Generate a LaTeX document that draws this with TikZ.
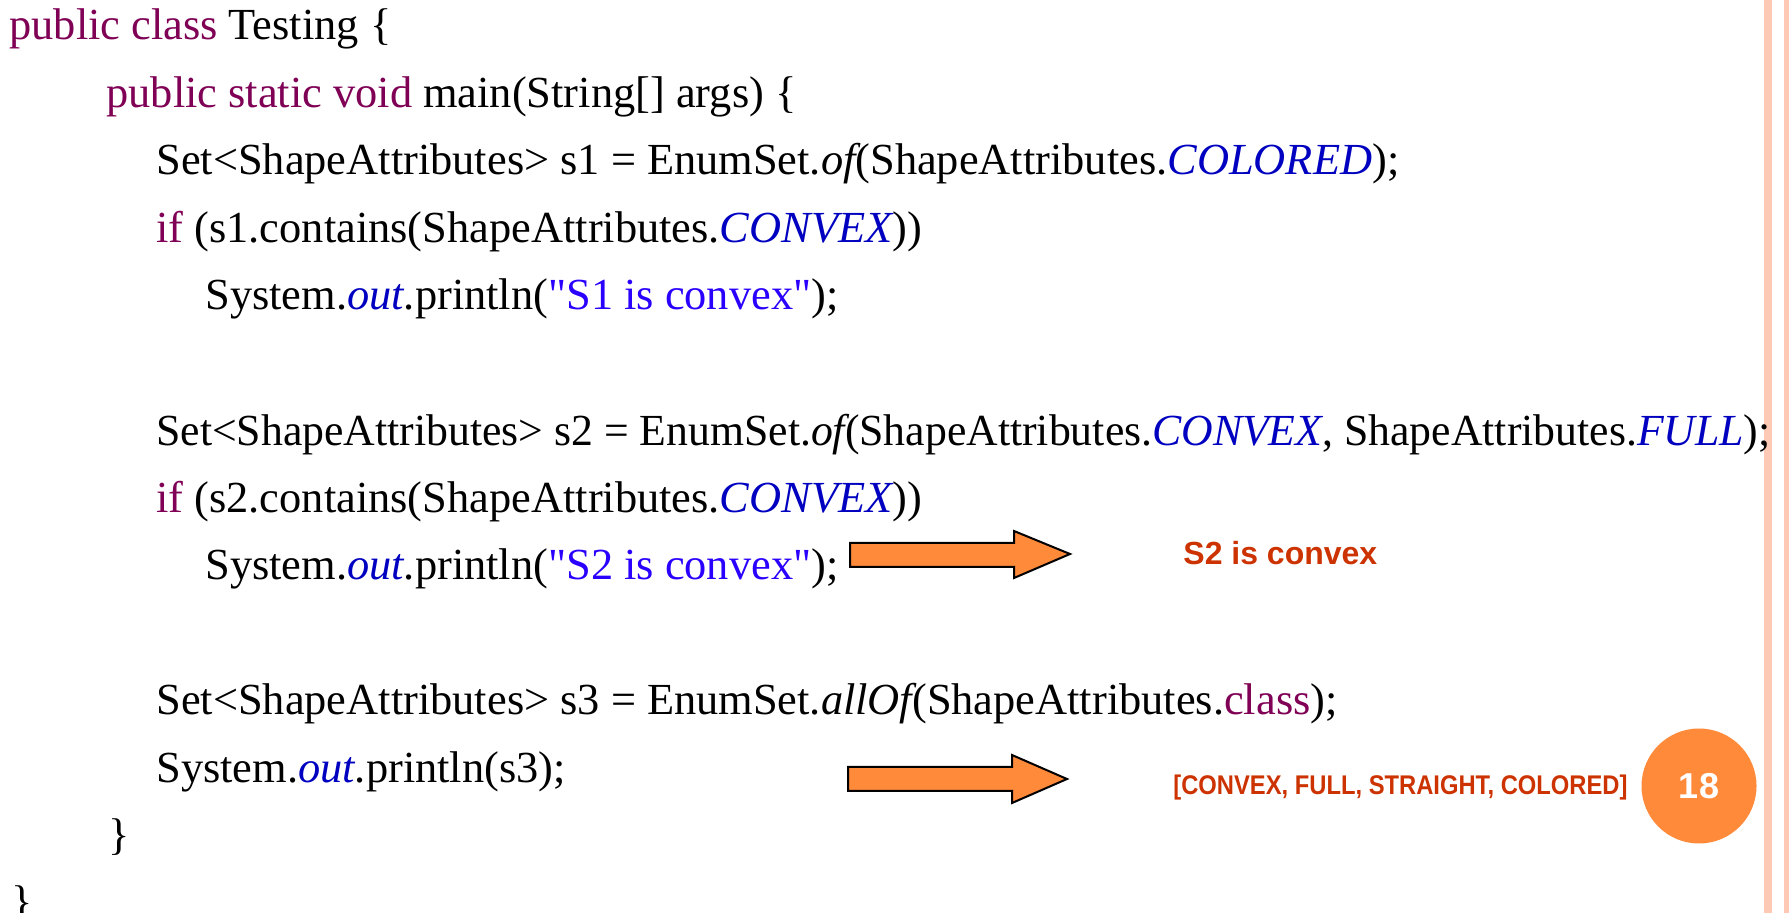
\documentclass[tikz,border=0pt]{standalone}
\usepackage{fontspec}
\setmainfont{Liberation Serif}
\newfontfamily\labelfont{Liberation Sans}
\definecolor{kwc}{HTML}{7F0055}
\definecolor{cstc}{HTML}{0000C0}
\definecolor{strc}{HTML}{2A00FF}
\definecolor{outc}{HTML}{CC3300}
\definecolor{arrowc}{HTML}{FF8A3A}
\definecolor{barc}{HTML}{FDC8B4}
\newcommand\kw[1]{\textcolor{kwc}{#1}}
\newcommand\cst[1]{{\color{cstc}\itshape #1}}
\newcommand\mth[1]{{\itshape #1}}
\newcommand\jstr[1]{\textcolor{strc}{\textquotedbl#1\textquotedbl}}
\begin{document}
\begin{tikzpicture}[x=0.5pt,y=-0.5pt,
  code/.style={anchor=base west, inner sep=0pt, font=\fontsize{22.2pt}{26pt}\selectfont},
  result/.style={anchor=base west, inner sep=0pt, text=outc},
  arrowshape/.style={fill=arrowc, draw=black, line width=1pt, line join=miter},
  bar/.style={fill=barc}]
\useasboundingbox (0,0) rectangle (1789,913);
\fill[white] (0,0) rectangle (1789,913);
% right decoration bars
\fill[bar] (1764,0) rectangle (1772,913);
\fill[bar] (1784,0) rectangle (1789,913);
% code
\node[code] (l1) at (9,40) {\kw{public class} Testing \{};
\node[code] (l2) at (106,108) {\kw{public static void} main(String[] args) \{};
\node[code] (l3) at (156,175) {Set<ShapeAttributes> s1 = EnumSet.\mth{of}(ShapeAttributes.\cst{COLORED});};
\node[code] (l4) at (156,243) {\kw{if} (s1.contains(ShapeAttributes.\cst{CONVEX}))};
\node[code] (l5) at (205,310) {System.\cst{out}.println(\jstr{S1 is convex});};
\node[code] (l6) at (156,446) {\scalebox{0.985}[1]{Set<ShapeAttributes> s2 = EnumSet.\mth{of}(ShapeAttributes.\cst{CONVEX}, ShapeAttributes.\cst{FULL});}};
\node[code] (l7) at (156,513) {\kw{if} (s2.contains(ShapeAttributes.\cst{CONVEX}))};
\node[code] (l8) at (205,580) {System.\cst{out}.println(\jstr{S2 is convex});};
\node[code] (l9) at (156,715) {Set<ShapeAttributes> s3 = EnumSet.\mth{allOf}(ShapeAttributes.\kw{class});};
\node[code] (l10) at (156,783) {System.\cst{out}.println(s3);};
\node[code] (l11) at (108,850) {\}};
\node[code] (l12) at (11,916) {\}};
% arrows
\path[arrowshape] (850,543) -- (1014,543) -- (1014,531) -- (1070,554) -- (1014,578) -- (1014,567) -- (850,567) -- cycle;
\path[arrowshape] (848,767) -- (1012,767) -- (1012,755) -- (1067,779) -- (1012,803) -- (1012,791) -- (848,791) -- cycle;
% outputs
\node[result, font=\labelfont\bfseries\fontsize{16pt}{18pt}\selectfont] (r1) at (1183,565) {S2 is convex};
\node[result, font=\labelfont\bfseries\fontsize{13.5pt}{16pt}\selectfont] (r2) at (1173,795) {\scalebox{0.88}[1]{[CONVEX, FULL, STRAIGHT, COLORED]}};
% page number
\node[circle, fill=arrowc, minimum size=57.5pt, inner sep=0pt, text=white,
  font=\labelfont\bfseries\fontsize{18pt}{20pt}\selectfont] (pg) at (1699,786) {18};
\end{tikzpicture}
\end{document}
